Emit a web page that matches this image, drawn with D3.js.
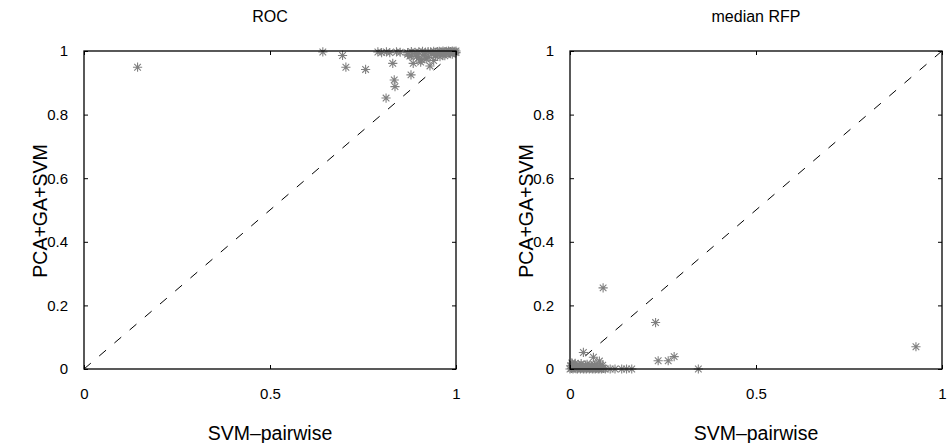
<!DOCTYPE html>
<html>
<head>
<meta charset="utf-8">
<script src="https://cdn.jsdelivr.net/npm/d3@7"></script>
<style>
  body { margin: 0; background: #fff; }
  svg { display: block; font-family: "Liberation Sans", Arial, sans-serif; }
</style>
</head>
<body>
<div id="chart"></div>
<script>
// ROC panel: SVM-pairwise (x) vs PCA+GA+SVM (y)
const rocX = [0.144, 0.642, 0.695, 0.704, 0.757, 0.812, 0.834, 0.836, 0.830, 0.879, 0.930, 0.885,
  0.908, 0.876, 0.894, 0.957,
  0.790, 0.800, 0.813, 0.822, 0.840, 0.850, 0.870, 0.880, 0.890, 0.900, 0.910, 0.918, 0.925,
  0.932, 0.940, 0.945, 0.950, 0.955, 0.960, 0.965, 0.970, 0.975, 0.980, 0.985, 0.990, 0.995, 1.000,
  0.880, 0.900, 0.915, 0.925, 0.935, 0.945, 0.955, 0.965, 0.975, 0.985, 0.995,
  0.905, 0.920, 0.940, 0.950, 0.970, 0.980, 0.990, 1.000, 0.870, 0.895];
const rocY = [0.949, 0.997, 0.986, 0.949, 0.942, 0.852, 0.909, 0.888, 0.961, 0.925, 0.953, 0.961,
  0.972, 0.984, 0.982, 0.982,
  0.997, 0.995, 0.997, 0.995, 0.997, 0.996, 0.995, 0.998, 0.996, 0.997, 0.999, 0.996, 0.998,
  0.997, 0.999, 0.996, 0.998, 0.999, 0.997, 1.000, 0.998, 0.999, 1.000, 0.998, 1.000, 0.999, 1.000,
  0.985, 0.978, 0.988, 0.980, 0.990, 0.986, 0.992, 0.988, 0.994, 0.992, 0.996,
  0.965, 0.975, 0.970, 0.990, 0.985, 0.994, 0.990, 0.995, 0.990, 0.992];

// median RFP panel
const rfpX = [0.089, 0.230, 0.237, 0.264, 0.280, 0.345, 0.930, 0.036, 0.063, 0.079, 0.005,
  0.108, 0.121, 0.139, 0.152, 0.166,
  0.000, 0.004, 0.008, 0.012, 0.016, 0.020, 0.024, 0.028, 0.032, 0.036, 0.040, 0.044, 0.048,
  0.052, 0.056, 0.060, 0.064, 0.068, 0.072, 0.076, 0.080, 0.085, 0.090, 0.095,
  0.002, 0.010, 0.018, 0.026, 0.034, 0.042, 0.050, 0.058, 0.066, 0.074, 0.082,
  0.006, 0.014, 0.022, 0.030, 0.046, 0.054, 0.070, 0.088];
const rfpY = [0.255, 0.146, 0.026, 0.026, 0.039, 0.000, 0.070, 0.052, 0.037, 0.025, 0.019,
  0.000, 0.000, 0.000, 0.000, 0.000,
  0.000, 0.002, 0.000, 0.004, 0.001, 0.000, 0.003, 0.000, 0.002, 0.000, 0.001, 0.000, 0.003,
  0.000, 0.002, 0.000, 0.001, 0.000, 0.002, 0.000, 0.001, 0.000, 0.002, 0.000,
  0.010, 0.012, 0.008, 0.011, 0.009, 0.012, 0.008, 0.010, 0.012, 0.009, 0.011,
  0.016, 0.018, 0.014, 0.017, 0.015, 0.013, 0.016, 0.012];

const xTicks = [0, 0.5, 1];
const yTicks = [0, 0.2, 0.4, 0.6, 0.8, 1];

const panels = [
  { title: 'ROC', xs: rocX, ys: rocY, left: 84 },
  { title: 'median RFP', xs: rfpX, ys: rfpY, left: 570 }
];

const width = 948, height = 443;
const plotW = 372, plotH = 318, plotTop = 51;
const starColor = '#808080';

const svg = d3.select('#chart').append('svg')
  .attr('width', width)
  .attr('height', height);

// MATLAB-style '*' marker: plus + cross
function starPath(r) {
  const d = r * 0.72;
  return `M${-r},0L${r},0M0,${-r}L0,${r}M${-d},${-d}L${d},${d}M${-d},${d}L${d},${-d}`;
}

panels.forEach(p => {
  const g = svg.append('g')
    .attr('transform', `translate(${p.left},${plotTop})`);

  const x = d3.scaleLinear().domain([0, 1]).range([0, plotW]);
  const y = d3.scaleLinear().domain([0, 1]).range([plotH, 0]);

  // diagonal reference
  g.append('line')
    .attr('x1', x(0)).attr('y1', y(0))
    .attr('x2', x(1)).attr('y2', y(1))
    .attr('stroke', '#000')
    .attr('stroke-width', 1)
    .attr('stroke-dasharray', '9,11');

  // points
  const pts = p.xs.map((v, i) => [v, p.ys[i]]);
  g.append('g').selectAll('path')
    .data(pts)
    .join('path')
    .attr('transform', d => `translate(${x(d[0])},${y(d[1])})`)
    .attr('d', starPath(4.6))
    .attr('fill', 'none')
    .attr('stroke', starColor)
    .attr('stroke-width', 1.1);

  // box
  g.append('rect')
    .attr('x', 0).attr('y', 0)
    .attr('width', plotW).attr('height', plotH)
    .attr('fill', 'none')
    .attr('stroke', '#000')
    .attr('stroke-width', 1.3);

  // inward ticks on all four sides
  const tk = 4;
  const bottom = g.append('g')
    .attr('transform', `translate(0,${plotH})`)
    .call(d3.axisBottom(x).tickValues(xTicks).tickFormat(d3.format('~g'))
      .tickSizeInner(-tk).tickSizeOuter(0).tickPadding(19));
  g.append('g')
    .call(d3.axisTop(x).tickValues(xTicks).tickFormat('')
      .tickSizeInner(-tk).tickSizeOuter(0));
  const left = g.append('g')
    .call(d3.axisLeft(y).tickValues(yTicks).tickFormat(d3.format('~g'))
      .tickSizeInner(-tk).tickSizeOuter(0).tickPadding(16));
  g.append('g')
    .attr('transform', `translate(${plotW},0)`)
    .call(d3.axisRight(y).tickValues(yTicks).tickFormat('')
      .tickSizeInner(-tk).tickSizeOuter(0));

  g.selectAll('.domain').remove();
  g.selectAll('.tick line').attr('stroke', '#000');
  [bottom, left].forEach(a => a.selectAll('text')
    .attr('font-size', 15)
    .attr('font-family', '"Liberation Sans", Arial, sans-serif')
    .attr('fill', '#000'));

  // title
  svg.append('text')
    .attr('x', p.left + plotW / 2)
    .attr('y', 22)
    .attr('text-anchor', 'middle')
    .attr('font-size', 16)
    .text(p.title);

  // x label
  svg.append('text')
    .attr('x', p.left + plotW / 2)
    .attr('y', 440)
    .attr('text-anchor', 'middle')
    .attr('font-size', 19.5)
    .text('SVM\u2013pairwise');

  // y label
  svg.append('text')
    .attr('transform', `translate(${p.left - 37},${plotTop + plotH / 2 + 1}) rotate(-90)`)
    .attr('text-anchor', 'middle')
    .attr('font-size', 19.5)
    .text('PCA+GA+SVM');
});
</script>
</body>
</html>
